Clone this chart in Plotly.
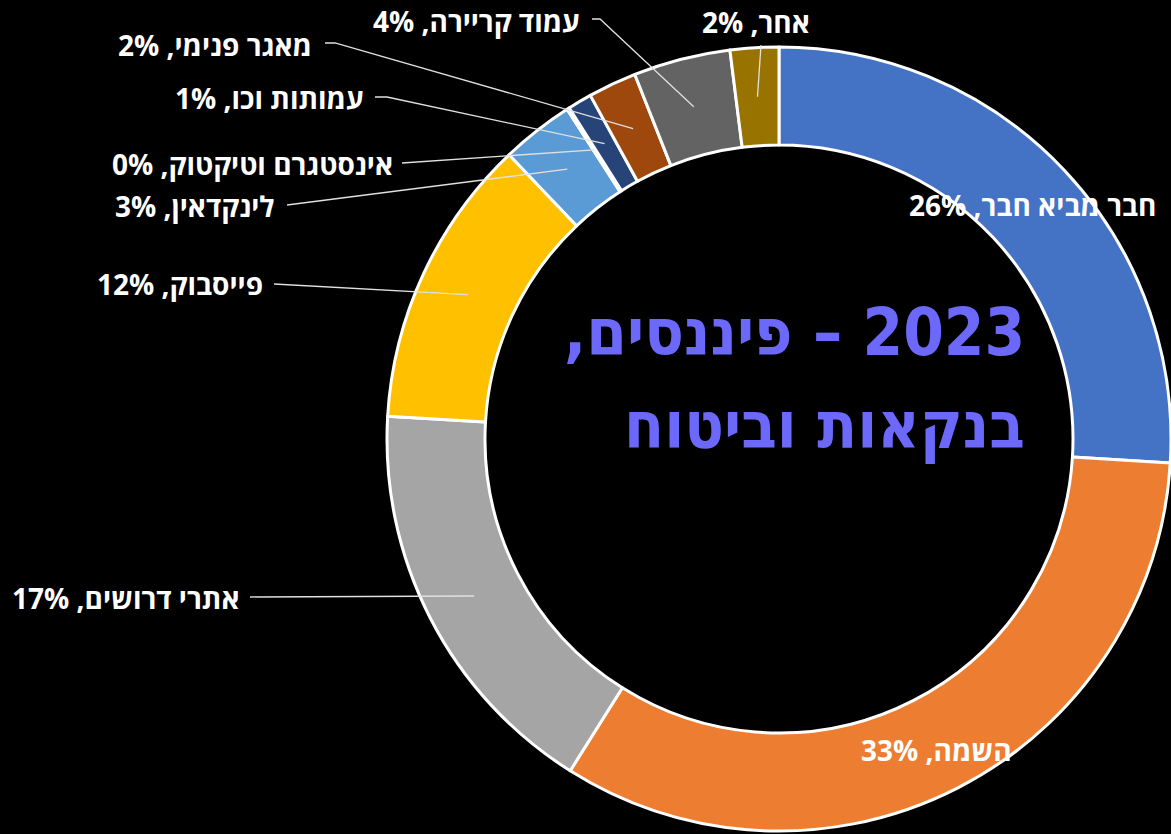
import math
import plotly.graph_objects as go

# Recruitment channels, clockwise from 12 o'clock
labels = ["חבר מביא חבר", "השמה", "אתרי דרושים", "פייסבוק", "לינקדאין",
          "אינסטגרם וטיקטוק", "עמותות וכו", "מאגר פנימי", "עמוד קריירה", "אחר"]
values = [26, 33, 17, 12, 3, 0.1, 1, 2, 4, 2]
colors = ["#4472C4", "#ED7D31", "#A5A5A5", "#FFC000", "#5B9BD5",
          "#70AD47", "#264478", "#9E480E", "#636363", "#997300"]

title_lines = ["\u200f2023 – פיננסים,\u200f", "בנקאות וביטוח"]

# ---- layout geometry (pixels) ----
W, H = 1171, 834
R = 392
CX, CY = W - R, 439
HOLE = 0.75

# right edge / vertical middle of each label
label_pos = [(1158, 205), (1014, 750), (242, 598), (265, 284), (277, 206),
             (395, 164), (366, 98), (314, 45), (582, 21), (812, 22)]
# leader line start point next to the label (None = label sits on the slice)
leader_start = [None, None, (250, 597), (274, 284), (287, 205),
                (402, 163), (375, 97), (325, 43), (592, 19), (761, 45)]
leader_elbow = [0, 0, 0, 0, 0, 0, 12, 10, 8, 0]


def px(x):
    return x / W


def py(y):
    return 1 - y / H


fig = go.Figure(go.Pie(
    labels=labels,
    values=values,
    hole=HOLE,
    sort=False,
    direction="clockwise",
    rotation=0,
    marker=dict(colors=colors, line=dict(color="white", width=3)),
    textinfo="none",
    hoverinfo="label+percent",
    domain=dict(x=[(CX - R) / W, 1.0], y=[1 - (CY + R) / H, 1 - (CY - R) / H]),
))

total = sum(values)
r_mid = R * (1 + HOLE) / 2
cum = 0.0
annotations = []
shapes = []
font_lbl = dict(family="Open Sans, Liberation Sans, DejaVu Sans", size=28,
                color="white", weight="bold")
for i, (lab, v) in enumerate(zip(labels, values)):
    mid = (cum + v / 2) / total
    cum += v
    theta = 2 * math.pi * mid
    ex = CX + r_mid * math.sin(theta)
    ey = CY - r_mid * math.cos(theta)
    pct = round(100 * v / total)
    lx, ly = label_pos[i]
    annotations.append(dict(
        text=f"{lab}, {pct}%", x=px(lx), y=py(ly), xref="paper", yref="paper",
        xanchor="right", yanchor="middle", showarrow=False, font=font_lbl))
    if leader_start[i] is not None:
        sx, sy = leader_start[i]
        bx = sx + leader_elbow[i]
        path = (f"M {px(sx)} {py(sy)} L {px(bx)} {py(sy)} "
                f"L {px(ex)} {py(ey)}")
        shapes.append(dict(type="path", path=path, xref="paper", yref="paper",
                           line=dict(color="#E0E0E0", width=1.3)))

font_title = dict(family="DejaVu Sans Condensed", size=65, color="#6C68FA",
                  weight="bold")
annotations.append(dict(text=title_lines[0], x=px(1027), y=py(333),
                        xref="paper", yref="paper", xanchor="right",
                        yanchor="middle", showarrow=False, font=font_title))
annotations.append(dict(text=title_lines[1], x=px(1027), y=py(426),
                        xref="paper", yref="paper", xanchor="right",
                        yanchor="middle", showarrow=False, font=font_title))

fig.update_layout(
    width=W, height=H,
    margin=dict(l=0, r=0, t=0, b=0),
    paper_bgcolor="black", plot_bgcolor="black",
    showlegend=False,
    annotations=annotations,
    shapes=shapes,
)

fig.write_html("out.html")
